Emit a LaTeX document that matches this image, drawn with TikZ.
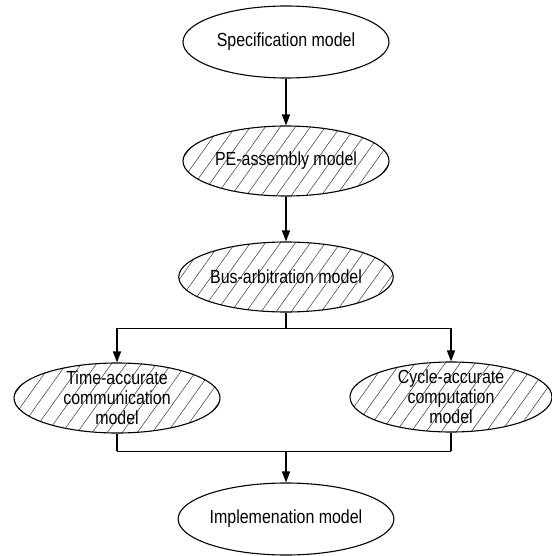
\documentclass[tikz,border=0pt]{standalone}
\usepackage{fontspec}
\setmainfont[FakeStretch=0.84]{Liberation Sans}
\usetikzlibrary{shapes.geometric,arrows.meta}
\begin{document}
\begin{tikzpicture}[x=1pt,y=1pt,
  model/.style={ellipse, draw=black, line width=1.1pt, inner sep=0pt,
    minimum width=206pt, minimum height=72pt, align=center,
    font=\fontsize{19}{20}\selectfont},
  hatched/.style={model, minimum height=70pt, inner ysep=-16pt,
    path picture={
      \foreach \i in {-16,...,16}
        \draw[line width=0.45pt, black!85]
          ([xshift=\i*15pt]path picture bounding box.center)
          ++(-30pt,-42pt) -- ++(60pt,84pt);
    }},
  link/.style={line width=1.3pt},
  flow/.style={link, -{Triangle[length=11pt,width=8pt]}},
  rail/.style={line width=1pt}]
  \useasboundingbox (0,0) rectangle (551,-556);

  % stages of the refinement flow
  \node[model]   (spec) at (286,-42)  {Specification model};
  \node[hatched] (pe)   at (286,-161) {PE-assembly model};
  \node[hatched] (bus)  at (286,-277) {Bus-arbitration model};
  \node[hatched] (tac)  at (117,-398) {Time-accurate\\communication\\model};
  \node[hatched, minimum width=202pt] (cac) at (451,-397) {Cycle-accurate\\computation\\model};
  \node[model]   (impl) at (286,-519) {Implemenation model};

  % branch and merge points
  \coordinate (split) at (286,-328);
  \coordinate (merge) at (286,-451);

  \draw[flow] (spec) -- (pe);
  \draw[flow] (pe) -- (bus);
  \draw[link] (bus) -- (split);
  \draw[rail] (split -| tac) -- (split -| cac);
  \draw[flow] (split -| tac) -- (tac);
  \draw[flow] (split -| cac) -- (cac);
  \draw[link] (tac) -- (merge -| tac);
  \draw[link] (cac) -- (merge -| cac);
  \draw[rail] (merge -| tac) -- (merge -| cac);
  \draw[flow] (merge) -- (impl);
\end{tikzpicture}
\end{document}
